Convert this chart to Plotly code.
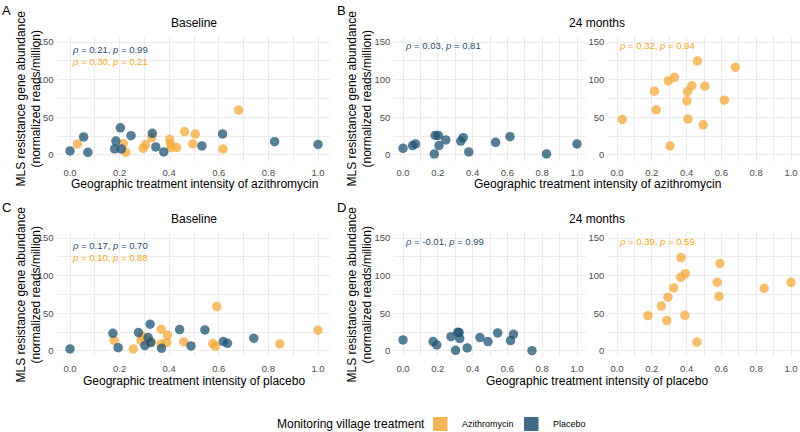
import plotly.graph_objects as go

# ---------------- data ----------------
# Azithromycin-treated monitoring villages, x = geographic treatment intensity of azithromycin
azi_x_azi = [0.03, 0.215, 0.225, 0.295, 0.305, 0.33, 0.402, 0.405, 0.408, 0.43, 0.462, 0.495, 0.505, 0.617, 0.68]
azi_base_A = [14.6, 15, 3.5, 8.8, 14, 23, 20.7, 14.6, 9.7, 10, 31, 14.6, 27.8, 8, 59.6]
azi_24m_B = [47.2, 84.7, 60, 98.4, 11.9, 103.2, 71.9, 84.3, 47.6, 91.8, 124.8, 40.1, 91.3, 72.8, 116.5]

# Placebo monitoring villages, x = geographic treatment intensity of azithromycin
pla_x_azi = [0.0, 0.055, 0.072, 0.18, 0.185, 0.203, 0.207, 0.246, 0.332, 0.346, 0.378, 0.532, 0.615, 0.825, 1.0]
pla_base_A = [5.3, 24, 3.5, 8, 18.5, 36, 8, 25.6, 28.7, 10.6, 4, 12, 28, 17.6, 14]
pla_24m_B = [8.8, 12.4, 14.6, 1.3, 26, 26, 12.4, 19.9, 18.5, 23, 4, 16.8, 24.3, 1.3, 14.6]

# Placebo monitoring villages, x = geographic treatment intensity of placebo
pla_x_pla = [0.0, 0.173, 0.194, 0.276, 0.302, 0.315, 0.323, 0.326, 0.369, 0.442, 0.488, 0.544, 0.618, 0.635, 0.741]
pla_base_C = [2.7, 23.5, 4.4, 24.4, 7.1, 17.8, 35.5, 11.1, 3.5, 28.4, 6.7, 28, 12.4, 10.2, 16.9]
pla_24m_D = [14.6, 12.4, 8, 19, 0.9, 24.9, 24.4, 16.4, 4, 17.8, 12.4, 24, 13.8, 22.2, 0.4]

# Azithromycin monitoring villages, x = geographic treatment intensity of placebo
azi_x_pla = [0.178, 0.255, 0.286, 0.293, 0.326, 0.367, 0.368, 0.39, 0.393, 0.459, 0.576, 0.586, 0.592, 0.846, 1.0]
azi_base_C = [13.8, 2.7, 13.8, 19.5, 12.4, 9.3, 28.8, 11.1, 20.9, 12, 9.8, 6.2, 59, 9.3, 27.5]
azi_24m_D = [46.9, 59.6, 40.4, 71.5, 83.8, 97.8, 124.1, 47.4, 102.6, 11.8, 91.2, 72.4, 116.2, 83.3, 91.2]

x_ticks = [0.0, 0.2, 0.4, 0.6, 0.8, 1.0]
y_ticks = [0, 50, 100, 150]

stats_A = [("0.21", "0.99"), ("0.30", "0.21")]   # placebo, azithromycin
stats_B = [("0.03", "0.81"), ("0.32", "0.94")]
stats_C = [("0.17", "0.70"), ("0.10", "0.88")]
stats_D = [("-0.01", "0.99"), ("0.39", "0.59")]

legend_title = "Monitoring village treatment"
legend_labels = ["Azithromycin", "Placebo"]

# ---------------- style ----------------
W, H = 800, 432
FONT = "Liberation Sans, Arial, Helvetica, sans-serif"
ORANGE = "#F4A93B"
BLUE = "#1D5373"
ORANGE_TXT = "#F5A623"
BLUE_TXT = "#1F4E6C"
GRID = "#EBEBEB"

def px_x(p):
    return p / W

def px_y(p):
    return 1 - p / H

# panel geometry (pixels)
top_row = (36.4, 160.6)
bot_row = (232.4, 356.6)
colA = (57.6, 330.4)
colBl = (394.3, 585.7)
colBr = (608.3, 799.7)

fig = go.Figure()

panels = [
    (1, colA, top_row, [(azi_x_azi, azi_base_A, ORANGE), (pla_x_azi, pla_base_A, BLUE)]),
    (2, colBl, top_row, [(pla_x_azi, pla_24m_B, BLUE)]),
    (3, colBr, top_row, [(azi_x_azi, azi_24m_B, ORANGE)]),
    (4, colA, bot_row, [(azi_x_pla, azi_base_C, ORANGE), (pla_x_pla, pla_base_C, BLUE)]),
    (5, colBl, bot_row, [(pla_x_pla, pla_24m_D, BLUE)]),
    (6, colBr, bot_row, [(azi_x_pla, azi_24m_D, ORANGE)]),
]

layout = {}
for idx, xd, yd, series in panels:
    sx = "" if idx == 1 else str(idx)
    for xs, ys, col in series:
        fig.add_trace(go.Scatter(
            x=xs, y=ys, mode="markers", xaxis="x" + sx, yaxis="y" + sx,
            marker=dict(color=col, size=9.5, opacity=0.75, line=dict(width=0)),
            showlegend=False, hoverinfo="skip"))
    layout["xaxis" + sx] = dict(
        domain=[px_x(xd[0]), px_x(xd[1])], anchor="y" + sx,
        range=[-0.05, 1.05], tickvals=x_ticks, ticktext=[f"{v:.1f}" for v in x_ticks],
        showgrid=True, gridcolor=GRID, gridwidth=1, zeroline=False, showline=False,
        ticks="", ticklabelstandoff=5,
        minor=dict(dtick=0.1, tick0=0, showgrid=True, gridcolor=GRID, gridwidth=0.5),
        tickfont=dict(size=9.5, color="#4D4D4D", family=FONT), fixedrange=True)
    layout["yaxis" + sx] = dict(
        domain=[px_y(yd[1]), px_y(yd[0])], anchor="x" + sx,
        range=[-7.5, 157.5], tickvals=y_ticks,
        showgrid=True, gridcolor=GRID, gridwidth=1, zeroline=False, showline=False,
        ticks="", ticklabelstandoff=3,
        minor=dict(dtick=25, tick0=0, showgrid=True, gridcolor=GRID, gridwidth=0.5),
        tickfont=dict(size=9.5, color="#4D4D4D", family=FONT), fixedrange=True)

annotations = []

def ann(text, x, y, size=12, color="black", xanchor="center", yanchor="middle", textangle=0,
        xref="paper", yref="paper", align="center"):
    annotations.append(dict(text=text, x=x, y=y, xref=xref, yref=yref, showarrow=False,
                            xanchor=xanchor, yanchor=yanchor, textangle=textangle, align=align,
                            font=dict(size=size, color=color, family=FONT)))

def stat_text(r, p, color):
    return f"<span style='color:{color}'><i>ρ</i> = {r}, <i>p</i> = {p}</span>"

# stats annotations (data coords)
ann(stat_text(*stats_A[0], BLUE_TXT) + "<br>" + stat_text(*stats_A[1], ORANGE_TXT),
    0, 150.5, size=9.5, xanchor="left", yanchor="top", xref="x", yref="y", align="left")
ann(stat_text(*stats_B[0], BLUE_TXT), 0, 146, size=9.5, xanchor="left", xref="x2", yref="y2")
ann(stat_text(*stats_B[1], ORANGE_TXT), 0, 146, size=9.5, xanchor="left", xref="x3", yref="y3")
ann(stat_text(*stats_C[0], BLUE_TXT) + "<br>" + stat_text(*stats_C[1], ORANGE_TXT),
    0, 150.5, size=9.5, xanchor="left", yanchor="top", xref="x4", yref="y4", align="left")
ann(stat_text(*stats_D[0], BLUE_TXT), 0, 146, size=9.5, xanchor="left", xref="x5", yref="y5")
ann(stat_text(*stats_D[1], ORANGE_TXT), 0, 146, size=9.5, xanchor="left", xref="x6", yref="y6")

# panel titles
ann("Baseline", px_x(194), px_y(23))
ann("24 months", px_x(597), px_y(23))
ann("Baseline", px_x(194), px_y(219))
ann("24 months", px_x(597), px_y(219))

# panel letters
for letter, lx, ly in [("A", 6, 11), ("B", 341, 11), ("C", 6, 207), ("D", 341, 207)]:
    ann(letter, px_x(lx), px_y(ly), size=13)

# x-axis titles
xt_azi = "Geographic treatment intensity of azithromycin"
xt_pla = "Geographic treatment intensity of placebo"
ann(xt_azi, px_x(194), px_y(184))
ann(xt_azi, px_x(597), px_y(184))
ann(xt_pla, px_x(194), px_y(380.5))
ann(xt_pla, px_x(597), px_y(380.5))

# y-axis titles
yt = "MLS resistance gene abundance<br>(normalized reads/million)"
for yx, yy in [(28, 98.5), (359, 98.5), (28, 294.5), (359, 294.5)]:
    ann(yt, px_x(yx), px_y(yy), textangle=-90)

# legend (drawn manually)
shapes = []
ann(legend_title, px_x(427), px_y(424), size=12, xanchor="right")
for (x0, col, label) in [(433, "#F5B553", legend_labels[0]), (524, "#3D6A84", legend_labels[1])]:
    shapes.append(dict(type="rect", xref="paper", yref="paper",
                       x0=px_x(x0), x1=px_x(x0 + 14.5), y0=px_y(431), y1=px_y(417),
                       fillcolor=col, line=dict(width=0)))
    ann(label, px_x(x0 + 27), px_y(424), size=9, xanchor="left")

fig.update_layout(
    width=W, height=H, margin=dict(l=0, r=0, t=0, b=0),
    paper_bgcolor="white", plot_bgcolor="white",
    font=dict(family=FONT),
    annotations=annotations, shapes=shapes, showlegend=False,
    **layout)

fig.write_html("out.html")
